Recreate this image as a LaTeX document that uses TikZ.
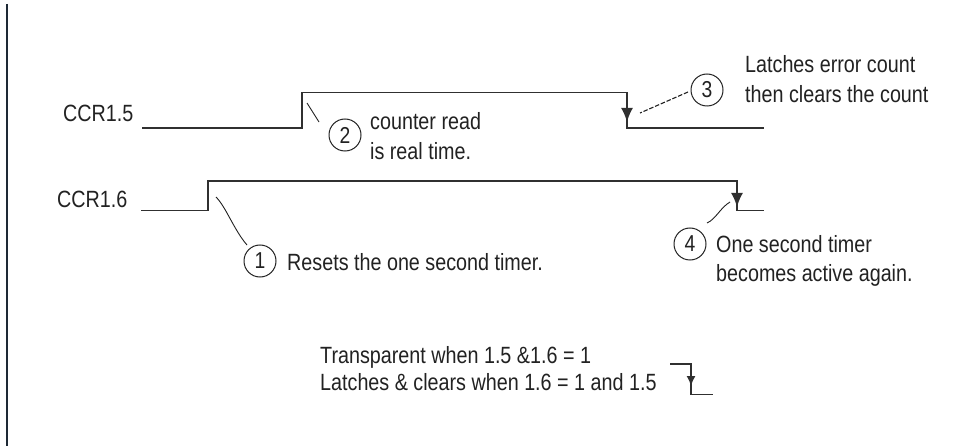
\documentclass[tikz,border=0pt]{standalone}
\usepackage{fontspec}
\setmainfont{Liberation Sans}[FakeStretch=0.84]
\usetikzlibrary{arrows.meta}
\definecolor{wavecol}{HTML}{303030}
\definecolor{barcol}{HTML}{1E2935}
\definecolor{txtcol}{HTML}{222222}
\begin{document}
\begin{tikzpicture}[x=1pt,y=-1pt,
  wave/.style={line width=1.9pt, draw=wavecol},
  lbl/.style={font=\fontsize{23.5}{30}\selectfont, text=txtcol, inner sep=0pt, anchor=base west},
  num/.style={circle, draw=txtcol, line width=1pt, minimum size=32pt, inner sep=0pt, text=txtcol, font=\fontsize{23}{23}\selectfont},
  lead/.style={line width=0.9pt, draw=txtcol},
  tipbig/.style={-{Latex[length=14pt,width=12pt]}},
  tipsmall/.style={-{Latex[length=10pt,width=9pt]}}]
\useasboundingbox (0,0) rectangle (974,446);
\fill[white] (0,0) rectangle (974,446);
\draw[line width=2pt, draw=barcol] (7,4) -- (7,446);

% signal labels
\node[lbl] (l15) at (63,122) {CCR1.5};
\node[lbl] (l16) at (57,208) {CCR1.6};

% CCR1.5 waveform
\coordinate (w5a) at (142,128);
\coordinate (w5b) at (302,128);
\coordinate (w5c) at (302,92.5);
\coordinate (w5d) at (627,92.5);
\coordinate (w5e) at (627,128);
\coordinate (w5f) at (764,128);
\coordinate (w5t) at (627,122);
\draw[wave] (w5a) -- (w5b) -- (w5c) -- (w5d) -- (w5e) -- (w5f);
\draw[wave, tipbig] (w5d) -- (w5t);

% CCR1.6 waveform
\coordinate (w6a) at (141,210.5);
\coordinate (w6b) at (208,210.5);
\coordinate (w6c) at (208,181);
\coordinate (w6d) at (737,181);
\coordinate (w6e) at (737,210.5);
\coordinate (w6f) at (764,210.5);
\coordinate (w6t) at (737,207);
\draw[wave] (w6a) -- (w6b) -- (w6c) -- (w6d) -- (w6e) -- (w6f);
\draw[wave, tipbig] (w6d) -- (w6t);

% small legend waveform
\coordinate (m1) at (670,364);
\coordinate (m2) at (691,364);
\coordinate (m3) at (691,394.5);
\coordinate (m4) at (713,394.5);
\coordinate (mt) at (691,386);
\draw[wave, line width=1.6pt] (m1) -- (m2) -- (m3) -- (m4);
\draw[wave, line width=1.6pt, tipsmall] (m2) -- (mt);

% numbered circles
\node[num] (c1) at (260,261) {1};
\node[num] (c2) at (345,135) {2};
\node[num] (c3) at (707,90) {3};
\node[num] (c4) at (690,244) {4};

% leaders
\coordinate (a1) at (216,197);
\coordinate (b1) at (247,245);
\draw[lead] (a1) .. controls (226,207) and (234,230) .. (b1);
\coordinate (a2) at (307,103);
\coordinate (b2) at (319,122);
\draw[lead] (a2) -- (b2);
\coordinate (a3) at (688,92);
\coordinate (b3) at (640,113);
\draw[lead, line width=1.1pt, dash pattern=on 4.5pt off 1.8pt] (a3) -- (b3);
\coordinate (a4) at (730,202);
\coordinate (b4) at (707,223);
\draw[lead] (a4) .. controls (720,208) and (716,219) .. (b4);

% callout texts
\node[lbl] (t1) at (287,271) {Resets the one second timer.};
\node[lbl] (t2a) at (370,130) {counter read};
\node[lbl] (t2b) at (370,160) {is real time.};
\node[lbl] (t3a) at (745,73) {Latches error count};
\node[lbl] (t3b) at (745,103) {then clears the count};
\node[lbl] (t4a) at (716,253) {One second timer};
\node[lbl] (t4b) at (716,282) {becomes active again.};

% legend texts
\node[lbl] (g1) at (320,363) {Transparent when 1.5 \&1.6 = 1};
\node[lbl] (g2) at (320,390) {Latches \& clears when 1.6 = 1 and 1.5};
\end{tikzpicture}
\end{document}
